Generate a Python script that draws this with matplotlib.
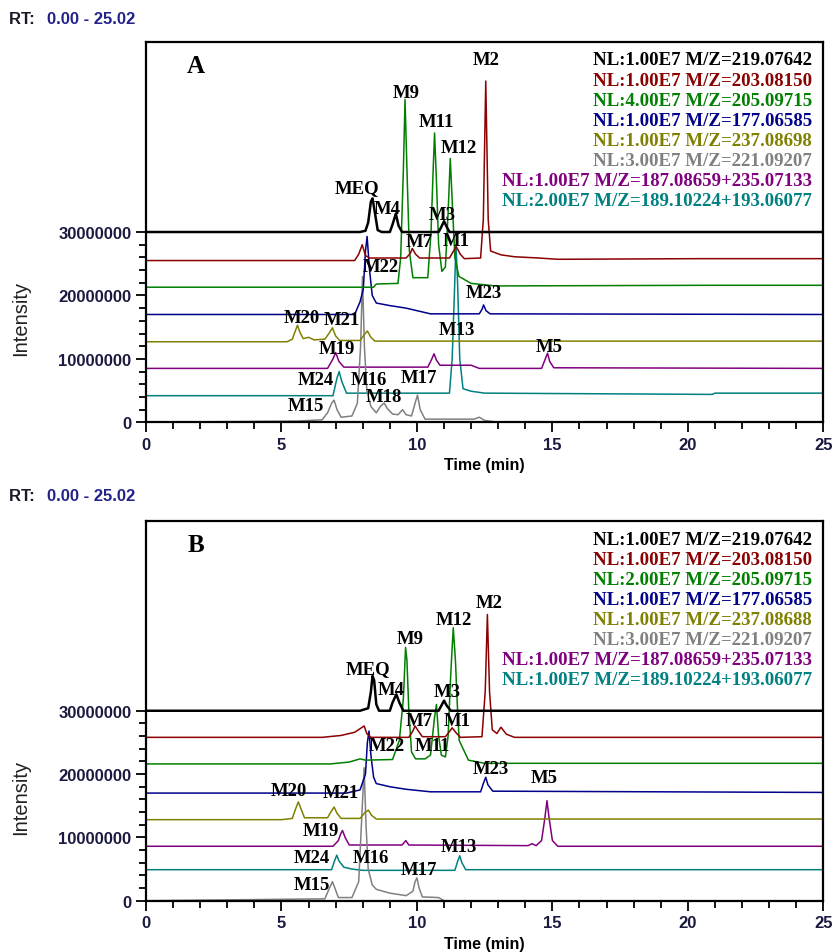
import numpy as np
import matplotlib
matplotlib.use("Agg")
import matplotlib.pyplot as plt
from matplotlib.ticker import FixedLocator, FuncFormatter

# ---- panel A traces (time in min, intensity in millions) ----
a_black_t = [0, 7.9, 8.1, 8.2, 8.3, 8.36, 8.45, 8.55, 8.7, 9.0, 9.1, 9.22, 9.32, 9.45, 10.8, 10.9, 11.0, 11.1, 11.2, 25]
a_black_v = [30, 30, 30.2, 31.5, 34.8, 35.3, 33, 30.3, 30, 30, 31.2, 32.9, 31.0, 30, 30, 30.8, 31.7, 30.8, 30, 30]

a_red_t = [0, 7.7, 7.85, 7.98, 8.1, 8.25, 9.6, 9.75, 9.83, 9.95, 10.1, 11.2, 11.35, 11.45, 11.6, 11.75,
           12.35, 12.45, 12.54, 12.63, 12.72, 13.1, 13.6, 14.5, 15.2, 20.4, 25]
a_red_v = [25.5, 25.5, 26.5, 28.0, 26.3, 25.9, 25.9, 26.6, 27.4, 26.5, 25.9, 25.9, 27.0, 27.7, 26.5, 25.8,
           25.9, 32, 53.8, 32, 27.0, 26.4, 26.1, 25.9, 25.7, 25.8, 25.8]

a_green_t = [0, 8.4, 8.5, 9.3, 9.4, 9.5, 9.56, 9.63, 9.72, 9.85, 10.4, 10.52, 10.6, 10.65, 10.72, 10.8,
             10.92, 11.05, 11.15, 11.23, 11.3, 11.4, 11.55, 12.0, 12.9, 20.7, 25]
a_green_v = [21.3, 21.3, 21.8, 21.9, 26, 40, 50.9, 40, 27, 22.8, 22.8, 30, 40, 45.6, 38, 28,
             23.8, 24.5, 33, 41.6, 35, 26, 23.0, 21.9, 21.5, 21.6, 21.6]

a_blue_t = [0, 7.7, 7.9, 8.02, 8.1, 8.16, 8.25, 8.35, 8.5, 9.0, 9.6, 10.5, 12.3, 12.4, 12.46, 12.55, 12.7, 25]
a_blue_v = [17.0, 17.0, 19.0, 21, 27, 29.3, 24, 20, 18.8, 18.4, 18.0, 17.1, 17.1, 17.8, 18.5, 17.6, 17.1, 17.0]

a_olive_t = [0, 5.2, 5.4, 5.5, 5.59, 5.68, 5.8, 6.0, 6.2, 6.6, 6.75, 6.88, 7.0, 7.15, 7.9, 8.05, 8.17, 8.3, 8.45, 25]
a_olive_v = [12.7, 12.7, 13.1, 14.3, 15.3, 14.2, 13.2, 13.4, 13.0, 13.1, 14.0, 14.9, 13.6, 12.9, 12.9, 13.8, 14.4, 13.4, 12.8, 12.8]

a_purple_t = [0, 6.7, 6.9, 7.0, 7.12, 7.3, 10.4, 10.55, 10.63, 10.72, 10.85, 12.0, 12.3, 14.6, 14.72, 14.82, 14.9, 15.05, 25]
a_purple_v = [8.5, 8.5, 10.0, 11.0, 9.6, 8.7, 8.7, 10.0, 10.8, 9.8, 9.0, 9.0, 8.5, 8.5, 9.8, 10.9, 9.6, 8.6, 8.5]

a_teal_t = [0, 6.9, 7.05, 7.13, 7.22, 7.4, 11.2, 11.3, 11.38, 11.44, 11.5, 11.58, 11.7, 12.0, 12.5, 20.9, 21.0, 25]
a_teal_v = [4.2, 4.2, 7.0, 8.0, 6.5, 4.6, 4.6, 10, 20, 28.0, 22, 10, 5.3, 4.9, 4.6, 4.4, 4.6, 4.6]

a_gray_t = [0, 5.6, 6.5, 6.7, 6.85, 6.94, 7.05, 7.2, 7.6, 7.8, 7.92, 7.99, 8.06, 8.15, 8.3, 8.5, 8.65, 8.79,
            8.9, 9.1, 9.3, 9.47, 9.6, 9.8, 9.93, 10.02, 10.12, 10.3, 12.1, 12.3, 12.5, 13, 25]
a_gray_v = [0, 0.2, 0.4, 1.5, 3.0, 3.5, 2.0, 0.8, 1.0, 3, 12, 23, 12, 5, 2.5, 1.5, 2.5, 3.05,
            2.2, 1.3, 1.2, 2.0, 1.2, 1.0, 3, 4.3, 2, 0.5, 0.5, 0.8, 0.3, 0, 0]

# ---- panel B traces ----
b_black_t = [0, 7.9, 8.2, 8.3, 8.36, 8.42, 8.5, 8.6, 9.0, 9.1, 9.24, 9.35, 9.5, 10.8, 10.9, 11.0, 11.1, 11.25, 25]
b_black_v = [30, 30, 30.4, 33, 35.5, 34.8, 31, 30, 30, 31.3, 32.6, 31.3, 30, 30, 30.8, 31.6, 30.8, 30, 30]

b_red_t = [0, 6.5, 7.2, 7.7, 7.95, 8.05, 8.15, 8.3, 9.7, 9.85, 9.93, 10.05, 10.2, 11.05, 11.2, 11.3, 11.45, 11.6,
           12.4, 12.52, 12.6, 12.68, 12.78, 12.95, 13.1, 13.3, 13.6, 25]
b_red_v = [25.8, 25.8, 26.1, 26.6, 27.3, 27.6, 26.4, 25.8, 25.8, 26.8, 27.6, 26.8, 25.9, 25.9, 26.7, 27.3, 26.5, 25.8,
           25.9, 33, 45.2, 33, 27.0, 26.4, 27.4, 26.3, 25.8, 25.8]

b_green_t = [0, 6.8, 7.5, 7.9, 8.1, 9.1, 9.35, 9.5, 9.58, 9.63, 9.7, 9.8, 9.95, 10.3, 10.5, 10.55, 10.65, 10.72,
             10.8, 10.9, 11.05, 11.15, 11.25, 11.34, 11.42, 11.5, 11.56, 11.9, 12.5, 25]
b_green_v = [21.6, 21.6, 21.9, 22.4, 22.2, 22.3, 25.3, 32, 40, 38, 30, 23.5, 22.4, 22.4, 23, 25, 29, 31.0,
             26, 23, 22.7, 26, 36, 43.1, 38, 30, 25.3, 22.2, 21.7, 21.7]

b_blue_t = [0, 7.4, 7.9, 8.1, 8.17, 8.23, 8.3, 8.4, 8.5, 9.0, 9.6, 10.5, 12.35, 12.45, 12.54, 12.62, 12.8, 25]
b_blue_v = [17.0, 17.0, 17.5, 20, 25, 26.8, 23, 19.5, 18.5, 18.0, 17.6, 17.2, 17.2, 18.5, 19.5, 18.3, 17.3, 17.1]

b_olive_t = [0, 5.0, 5.4, 5.52, 5.62, 5.72, 5.85, 6.7, 6.82, 6.94, 7.05, 7.2, 7.9, 8.1, 8.21, 8.32, 8.5, 25]
b_olive_v = [12.8, 12.8, 13.0, 14.5, 15.6, 14.5, 13.1, 13.1, 14.0, 14.8, 13.8, 13.0, 13.0, 14.0, 14.3, 13.5, 12.9, 12.9]

b_purple_t = [0, 6.9, 7.1, 7.18, 7.25, 7.35, 7.5, 9.45, 9.59, 9.7, 14.1, 14.25, 14.4, 14.6, 14.72, 14.8, 14.88, 15.0, 15.2, 25]
b_purple_v = [8.6, 8.6, 9.5, 10.5, 11.1, 10.0, 8.8, 8.8, 9.5, 8.8, 8.7, 9.0, 8.7, 9.5, 13, 15.8, 13, 9.5, 8.6, 8.6]

b_teal_t = [0, 6.85, 6.95, 7.04, 7.12, 7.3, 7.6, 8.0, 11.4, 11.5, 11.58, 11.66, 11.8, 25]
b_teal_v = [4.9, 4.9, 6.2, 7.2, 6.3, 5.3, 5.0, 4.8, 4.8, 6.2, 7.1, 6.0, 4.9, 4.9]

b_gray_t = [0, 6.6, 6.75, 6.88, 6.97, 7.1, 7.6, 7.85, 7.95, 8.05, 8.12, 8.2, 8.35, 8.5, 9.0, 9.6, 9.85, 9.93,
            10.0, 10.08, 10.2, 10.8, 11.0, 25]
b_gray_v = [0, 0.3, 1.8, 3.0, 2.0, 0.5, 0.5, 3, 12, 21, 12, 5, 2.5, 1.8, 1.2, 0.8, 1.5, 3,
            3.6, 2, 0.6, 0.5, 0, 0]

# ---- legend texts ----
a_legend = ["NL:1.00E7 M/Z=219.07642", "NL:1.00E7 M/Z=203.08150", "NL:4.00E7 M/Z=205.09715",
            "NL:1.00E7 M/Z=177.06585", "NL:1.00E7 M/Z=237.08698", "NL:3.00E7 M/Z=221.09207",
            "NL:1.00E7 M/Z=187.08659+235.07133", "NL:2.00E7 M/Z=189.10224+193.06077"]
b_legend = ["NL:1.00E7 M/Z=219.07642", "NL:1.00E7 M/Z=203.08150", "NL:2.00E7 M/Z=205.09715",
            "NL:1.00E7 M/Z=177.06585", "NL:1.00E7 M/Z=237.08688", "NL:3.00E7 M/Z=221.09207",
            "NL:1.00E7 M/Z=187.08659+235.07133", "NL:1.00E7 M/Z=189.10224+193.06077"]

# ---- peak labels (name, time, intensity in millions) ----
a_peaks = ["M2", "M9", "M11", "M12", "MEQ", "M4", "M3", "M7", "M1", "M22", "M23", "M20", "M21",
           "M13", "M5", "M19", "M24", "M16", "M17", "M18", "M15"]
a_peak_t = [12.56, 9.60, 10.71, 11.56, 7.79, 8.90, 10.93, 10.08, 11.45, 8.68, 12.48, 5.76, 7.24,
            11.48, 14.88, 7.05, 6.28, 8.23, 10.08, 8.79, 5.91]
a_peak_v = [57.2, 52.0, 47.4, 43.3, 37.0, 33.7, 32.7, 28.5, 28.6, 24.5, 20.4, 16.5, 16.2,
            14.6, 11.9, 11.7, 6.7, 6.7, 7.0, 4.0, 2.7]

b_peaks = ["M2", "M12", "M9", "MEQ", "M4", "M3", "M7", "M1", "M22", "M11", "M23", "M20", "M21",
           "M19", "M13", "M5", "M24", "M16", "M17", "M15"]
b_peak_t = [12.67, 11.37, 9.75, 8.20, 9.05, 11.12, 10.08, 11.48, 8.90, 10.56, 12.74, 5.28, 7.20,
            6.46, 11.56, 14.70, 6.13, 8.31, 10.08, 6.13]
b_peak_v = [47.1, 44.4, 41.4, 36.6, 33.4, 33.1, 28.4, 28.4, 24.5, 24.5, 20.9, 17.4, 17.1,
            11.1, 8.6, 19.5, 6.9, 6.9, 4.9, 2.5]

colors = ["black", "#8b0000", "#007f00", "#00008b", "#808000", "#808080", "#800080", "#008080"]
tick_color = "#1a1a40"

a_traces = [(a_black_t, a_black_v), (a_red_t, a_red_v), (a_green_t, a_green_v), (a_blue_t, a_blue_v),
            (a_olive_t, a_olive_v), (a_gray_t, a_gray_v), (a_purple_t, a_purple_v), (a_teal_t, a_teal_v)]
b_traces = [(b_black_t, b_black_v), (b_red_t, b_red_v), (b_green_t, b_green_v), (b_blue_t, b_blue_v),
            (b_olive_t, b_olive_v), (b_gray_t, b_gray_v), (b_purple_t, b_purple_v), (b_teal_t, b_teal_v)]

fig = plt.figure(figsize=(8.35, 9.53), dpi=100)
ax_a = fig.add_axes([0.1749, 0.5558, 0.8111, 0.3994])
ax_b = fig.add_axes([0.1749, 0.0538, 0.8111, 0.3987])

serif = "Liberation Serif"
sans = "Liberation Sans"


def draw_panel(ax, traces, legend, peaks, peak_t, peak_v, letter):
    # trazas, la negra encima
    for i in range(len(traces) - 1, -1, -1):
        t, v = traces[i]
        lw = 1.8 if i == 0 else 1.1
        ax.plot(t, np.array(v) * 1e6, color=colors[i], lw=lw, zorder=3 if i == 0 else 2)

    ax.set_xlim(0, 25)
    ax.set_ylim(0, 60e6)
    ax.xaxis.set_major_locator(FixedLocator([0, 5, 10, 15, 20, 25]))
    ax.xaxis.set_minor_locator(FixedLocator(list(range(0, 26))))
    ax.yaxis.set_major_locator(FixedLocator([0, 10e6, 20e6, 30e6]))
    ax.yaxis.set_minor_locator(FixedLocator([k * 2e6 for k in range(16)]))
    ax.yaxis.set_major_formatter(FuncFormatter(lambda y, p: "%d" % int(round(y))))
    ax.tick_params(which="both", direction="out", width=1.3, color="black")
    ax.tick_params(which="major", length=7)
    ax.tick_params(which="minor", length=5)
    for lab in ax.get_xticklabels() + ax.get_yticklabels():
        lab.set_fontfamily(sans)
        lab.set_fontweight("bold")
        lab.set_fontsize(12)
        lab.set_color(tick_color)
    for s in ax.spines.values():
        s.set_linewidth(1.6)

    ax.set_xlabel("Time (min)", fontfamily=sans, fontweight="bold", fontsize=11.5, labelpad=4)
    ax.set_ylabel("Intensity", fontfamily=sans, fontsize=14.5, color="#222222")
    ax.yaxis.set_label_coords(-0.171, 0.275)

    # leyenda de texto a la derecha
    for i, txt in enumerate(legend):
        ax.text(0.983, 0.952 - i * 0.0528, txt, transform=ax.transAxes, ha="right", va="center",
                fontfamily=serif, fontweight="bold", fontsize=13.6, color=colors[i])

    for name, t, v in zip(peaks, peak_t, peak_v):
        ax.text(t, v * 1e6, name, ha="center", va="center", fontfamily=serif,
                fontweight="bold", fontsize=13.5, color="black", zorder=4)

    ax.text(1.85, 56.3e6, letter, ha="center", va="center", fontfamily=serif,
            fontweight="bold", fontsize=18)


draw_panel(ax_a, a_traces, a_legend, a_peaks, a_peak_t, a_peak_v, "A")
draw_panel(ax_b, b_traces, b_legend, b_peaks, b_peak_t, b_peak_v, "B")

for y in (1 - 20 / 953, 1 - 497 / 953):
    fig.text(0.011, y, "RT: ", ha="left", va="center", fontfamily=sans, fontweight="bold",
             fontsize=12, color="#1a1a2a")
    fig.text(0.056, y, "0.00 - 25.02", ha="left", va="center", fontfamily=sans, fontweight="bold",
             fontsize=12, color="#22228a")

fig.savefig("out.png", dpi=100)
